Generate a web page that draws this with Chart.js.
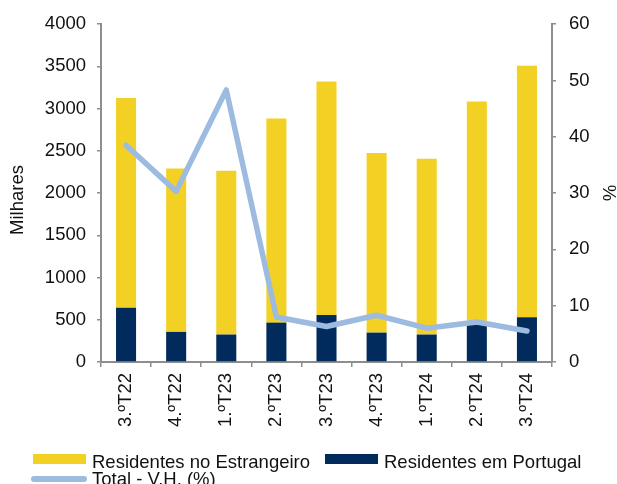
<!DOCTYPE html>
<html>
<head>
<meta charset="utf-8">
<script src="https://cdn.jsdelivr.net/npm/chart.js@4.4.1/dist/chart.umd.min.js"></script>
<style>
  html, body { margin: 0; padding: 0; background: #fff; }
  #wrap { position: relative; width: 617px; height: 484px; overflow: hidden;
          font-family: "Liberation Sans", Arial, sans-serif; }
  #c { position: absolute; left: 0; top: 0; }
  .lg { position: absolute; font-size: 18.5px; line-height: 1; color: #111; white-space: nowrap; }
  .sw { position: absolute; }
</style>
</head>
<body>
<div id="wrap">
  <canvas id="c" width="617" height="484"></canvas>
  <div class="sw" style="left:33px;top:454px;width:53px;height:10px;background:#F3D124"></div>
  <div class="lg" style="left:92px;top:452.5px">Residentes no Estrangeiro</div>
  <div class="sw" style="left:325px;top:454px;width:53px;height:10px;background:#002B5C"></div>
  <div class="lg" style="left:384px;top:452.5px">Residentes em Portugal</div>
  <div class="sw" style="left:31px;top:476px;width:56px;height:6px;border-radius:3px;background:#9DBBE1"></div>
  <div class="lg" style="left:92px;top:470px">Total - V.H. (%)</div>
</div>
<script>
// Quarters on the category axis
const categories = ['3.ºT22', '4.ºT22', '1.ºT23', '2.ºT23', '3.ºT23', '4.ºT23', '1.ºT24', '2.ºT24', '3.ºT24'];
// Guests (thousands) by residence
const residentesPortugal = [642, 356, 325, 466, 555, 348, 325, 450, 531];
const residentesEstrangeiro = [2482, 1935, 1939, 2416, 2765, 2127, 2080, 2635, 2976];
// Year-on-year change of the total (%)
const totalVH = [38.5, 30.3, 48.3, 8.0, 6.3, 8.3, 6.0, 7.1, 5.5];
// Axis ranges
const leftMax = 4000, leftStep = 500;
const rightMax = 60, rightStep = 10;

const FONT = '"Liberation Sans", Arial, sans-serif';
const AXIS = '#8E8E8E';
const TEXT = '#111';
const FS = 18.5;

// Left axis title drawn a little below the plot's mid-height
const leftTitle = {
  id: 'leftTitle',
  afterDraw(chart) {
    const ctx = chart.ctx;
    ctx.save();
    ctx.translate(18, 200);
    ctx.rotate(-Math.PI / 2);
    ctx.font = FS + 'px ' + FONT;
    ctx.fillStyle = TEXT;
    ctx.textAlign = 'center';
    ctx.textBaseline = 'middle';
    ctx.fillText('Milhares', 0, 0);
    ctx.restore();
  }
};

const plain = v => String(v);

new Chart(document.getElementById('c'), {
  data: {
    labels: categories,
    datasets: [
      {
        type: 'line',
        label: 'Total - V.H. (%)',
        data: totalVH,
        yAxisID: 'y1',
        borderColor: '#9DBBE1',
        borderWidth: 5.5,
        borderCapStyle: 'round',
        borderJoinStyle: 'round',
        pointRadius: 0,
        tension: 0,
        order: 0
      },
      {
        type: 'bar',
        label: 'Residentes em Portugal',
        data: residentesPortugal,
        backgroundColor: '#002B5C',
        yAxisID: 'y',
        stack: 's',
        categoryPercentage: 1,
        barPercentage: 0.4,
        order: 1
      },
      {
        type: 'bar',
        label: 'Residentes no Estrangeiro',
        data: residentesEstrangeiro,
        backgroundColor: '#F3D124',
        yAxisID: 'y',
        stack: 's',
        categoryPercentage: 1,
        barPercentage: 0.4,
        order: 1
      }
    ]
  },
  options: {
    responsive: false,
    animation: false,
    devicePixelRatio: 1,
    layout: { padding: { top: 20, bottom: 54, left: 0, right: 0 } },
    plugins: { legend: { display: false }, tooltip: { enabled: false } },
    scales: {
      x: {
        stacked: true,
        offset: true,
        grid: { display: true, offset: true, drawOnChartArea: false, drawTicks: true, tickLength: 5, color: AXIS, lineWidth: 1.5 },
        border: { display: true, color: AXIS, width: 2 },
        ticks: { minRotation: 90, maxRotation: 90, autoSkip: false, padding: 6, color: TEXT, font: { family: FONT, size: FS } },
        afterFit(s) { s.height = 68; }
      },
      y: {
        position: 'left',
        stacked: true,
        min: 0, max: leftMax,
        grid: { display: true, drawOnChartArea: false, drawTicks: true, tickLength: 4, color: AXIS, lineWidth: 1.5 },
        border: { display: true, color: AXIS, width: 2 },
        ticks: { stepSize: leftStep, padding: 11, color: TEXT, font: { family: FONT, size: FS }, callback: plain },
        afterFit(s) { s.width = 101; }
      },
      y1: {
        position: 'right',
        min: 0, max: rightMax,
        grid: { display: true, drawOnChartArea: false, drawTicks: true, tickLength: 4, color: AXIS, lineWidth: 1.5 },
        border: { display: true, color: AXIS, width: 2 },
        ticks: { stepSize: rightStep, padding: 13, color: TEXT, font: { family: FONT, size: FS }, callback: plain },
        title: { display: true, text: '%', color: TEXT, font: { family: FONT, size: FS, lineHeight: 1 }, padding: { top: 0, bottom: 0 } },
        afterFit(s) { s.width = 65; }
      }
    }
  },
  plugins: [leftTitle]
});
</script>
</body>
</html>
